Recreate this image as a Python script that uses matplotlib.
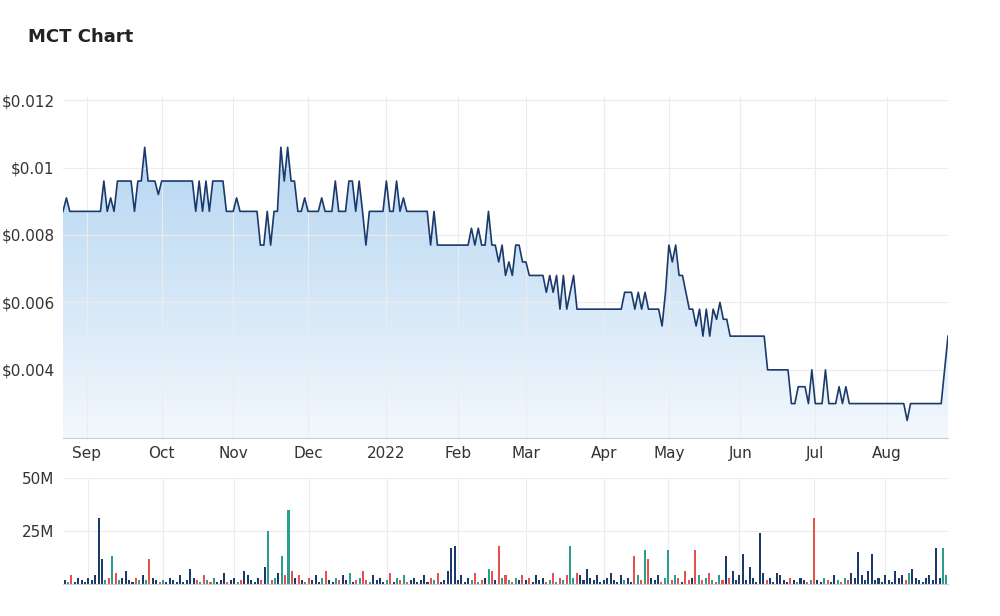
import numpy as np
import matplotlib.pyplot as plt
from matplotlib.ticker import FuncFormatter

# trading-day closes grouped by month (Aug 2021 tail .. Aug 2022)
months = ['', 'Sep', 'Oct', 'Nov', 'Dec', '2022', 'Feb', 'Mar', 'Apr', 'May', 'Jun', 'Jul', 'Aug']
price_by_month = [
    [0.0087, 0.0091, 0.0087, 0.0087, 0.0087, 0.0087, 0.0087],
    [0.0087, 0.0087, 0.0087, 0.0087, 0.0087, 0.0096, 0.0087, 0.0091, 0.0087, 0.0096, 0.0096, 0.0096, 0.0096, 0.0096, 0.0087, 0.0096, 0.0096, 0.0106, 0.0096, 0.0096, 0.0096, 0.0092],
    [0.0096, 0.0096, 0.0096, 0.0096, 0.0096, 0.0096, 0.0096, 0.0096, 0.0096, 0.0096, 0.0087, 0.0096, 0.0087, 0.0096, 0.0087, 0.0096, 0.0096, 0.0096, 0.0096, 0.0087, 0.0087],
    [0.0087, 0.0091, 0.0087, 0.0087, 0.0087, 0.0087, 0.0087, 0.0087, 0.0077, 0.0077, 0.0087, 0.0077, 0.0087, 0.0087, 0.0106, 0.0096, 0.0106, 0.0096, 0.0096, 0.0087, 0.0087, 0.0091],
    [0.0087, 0.0087, 0.0087, 0.0087, 0.0091, 0.0087, 0.0087, 0.0087, 0.0096, 0.0087, 0.0087, 0.0087, 0.0096, 0.0096, 0.0087, 0.0096, 0.0087, 0.0077, 0.0087, 0.0087, 0.0087, 0.0087, 0.0087],
    [0.0096, 0.0087, 0.0087, 0.0096, 0.0087, 0.0091, 0.0087, 0.0087, 0.0087, 0.0087, 0.0087, 0.0087, 0.0087, 0.0077, 0.0087, 0.0077, 0.0077, 0.0077, 0.0077, 0.0077, 0.0077],
    [0.0077, 0.0077, 0.0077, 0.0077, 0.0082, 0.0077, 0.0082, 0.0077, 0.0077, 0.0087, 0.0077, 0.0077, 0.0072, 0.0077, 0.0068, 0.0072, 0.0068, 0.0077, 0.0077, 0.0072],
    [0.0072, 0.0068, 0.0068, 0.0068, 0.0068, 0.0068, 0.0063, 0.0068, 0.0063, 0.0068, 0.0058, 0.0068, 0.0058, 0.0063, 0.0068, 0.0058, 0.0058, 0.0058, 0.0058, 0.0058, 0.0058, 0.0058, 0.0058],
    [0.0058, 0.0058, 0.0058, 0.0058, 0.0058, 0.0058, 0.0063, 0.0063, 0.0063, 0.0058, 0.0063, 0.0058, 0.0063, 0.0058, 0.0058, 0.0058, 0.0058, 0.0053, 0.0063],
    [0.0077, 0.0072, 0.0077, 0.0068, 0.0068, 0.0063, 0.0058, 0.0058, 0.0053, 0.0058, 0.0050, 0.0058, 0.0050, 0.0058, 0.0055, 0.0060, 0.0055, 0.0055, 0.0050, 0.0050, 0.0050],
    [0.0050, 0.0050, 0.0050, 0.0050, 0.0050, 0.0050, 0.0050, 0.0050, 0.0040, 0.0040, 0.0040, 0.0040, 0.0040, 0.0040, 0.0040, 0.0030, 0.0030, 0.0035, 0.0035, 0.0035, 0.0030, 0.0040],
    [0.0030, 0.0030, 0.0030, 0.0040, 0.0030, 0.0030, 0.0030, 0.0035, 0.0030, 0.0035, 0.0030, 0.0030, 0.0030, 0.0030, 0.0030, 0.0030, 0.0030, 0.0030, 0.0030, 0.0030, 0.0030],
    [0.0030, 0.0030, 0.0030, 0.0030, 0.0030, 0.0030, 0.0025, 0.0030, 0.0030, 0.0030, 0.0030, 0.0030, 0.0030, 0.0030, 0.0030, 0.0030, 0.0030, 0.0040, 0.0050],
]
# volume in millions, same grouping
volume_by_month = [
    [2, 1, 4, 1, 3, 2, 1],
    [3, 2, 4, 31, 12, 2, 3, 13, 5, 2, 3, 6, 2, 1, 3, 2, 4, 2, 12, 3, 2, 1],
    [2, 1, 3, 2, 1, 4, 1, 2, 7, 3, 2, 1, 4, 2, 1, 3, 1, 2, 5, 1, 2],
    [3, 1, 2, 6, 4, 2, 1, 3, 2, 8, 25, 2, 3, 5, 13, 4, 35, 6, 3, 4, 2, 1],
    [3, 2, 4, 1, 3, 6, 2, 1, 3, 2, 4, 2, 5, 1, 2, 3, 6, 2, 1, 4, 2, 3, 1],
    [2, 5, 1, 3, 2, 4, 1, 2, 3, 1, 2, 4, 1, 3, 2, 5, 1, 2, 6, 17, 18],
    [2, 4, 1, 3, 2, 5, 1, 2, 3, 7, 6, 2, 18, 3, 4, 2, 1, 3, 2, 4],
    [2, 3, 1, 4, 2, 3, 1, 2, 5, 1, 3, 2, 4, 18, 3, 5, 4, 2, 7, 3, 2, 4, 1],
    [2, 3, 5, 2, 1, 4, 2, 3, 1, 13, 4, 2, 16, 12, 3, 2, 4, 1, 3],
    [16, 2, 4, 3, 1, 6, 2, 3, 16, 4, 2, 3, 5, 2, 1, 4, 2, 13, 3, 6, 2],
    [4, 14, 2, 8, 3, 1, 24, 5, 2, 3, 1, 5, 4, 2, 1, 3, 2, 1, 3, 2, 1, 2],
    [31, 2, 1, 3, 2, 1, 4, 2, 1, 3, 2, 5, 3, 15, 4, 2, 6, 14, 2, 3, 1],
    [4, 2, 1, 6, 3, 4, 2, 5, 7, 3, 2, 1, 3, 4, 2, 17, 3, 17, 4],
]

price = np.concatenate(price_by_month)
volume = np.concatenate(volume_by_month)
x = np.arange(len(price))
month_starts = np.cumsum([0] + [len(m) for m in price_by_month[:-1]])

navy = '#1b3a6b'
diff = np.diff(price, prepend=price[0])
vol_colors = np.where(diff > 0, '#2a9d8f', np.where(diff < 0, '#e8504b', navy))

fig = plt.figure(figsize=(10, 6.16), dpi=100)
fig.text(0.028, 0.932, 'MCT Chart', fontsize=13, fontweight='bold', color='#222222')

ax = fig.add_axes([0.063, 0.289, 0.885, 0.554])
ax.plot(x, price, color=navy, lw=1.2)
ylo = 0.00198
# gradient fill under the line
grad = np.linspace(0, 1, 256).reshape(-1, 1)
im = ax.imshow(grad, extent=[x[0], x[-1], ylo, price.max()], origin='lower', aspect='auto',
               cmap=plt.matplotlib.colors.LinearSegmentedColormap.from_list('g', ['#f3f8fd', '#b6d6f2']), zorder=0)
poly = ax.fill_between(x, price, ylo, color='none')
im.set_clip_path(poly.get_paths()[0], transform=ax.transData)
ax.set_xlim(x[0], x[-1])
ax.set_ylim(ylo, 0.0121)
ax.set_yticks([0.004, 0.006, 0.008, 0.010, 0.012])
ax.yaxis.set_major_formatter(FuncFormatter(lambda v, p: '$' + ('%.3f' % v).rstrip('0')))
ax.set_xticks(month_starts[1:])
ax.set_xticklabels(months[1:])

vax = fig.add_axes([0.063, 0.052, 0.885, 0.172])
vax.bar(x, volume, width=0.6, color=vol_colors)
vax.set_xlim(x[0] - 0.5, x[-1] + 0.5)
vax.set_ylim(0, 50)
vax.set_yticks([25, 50])
vax.set_yticklabels(['25M', '50M'])
vax.set_xticks(month_starts[1:])
vax.set_xticklabels([])

for a in (ax, vax):
    a.grid(True, color='#ececec', lw=0.8)
    a.set_axisbelow(True)
    for s in a.spines.values():
        s.set_visible(False)
    a.spines['bottom'].set_visible(True)
    a.spines['bottom'].set_color('#cccccc')
    a.tick_params(length=0, labelsize=11, colors='#333333', pad=6)

fig.savefig('out.png')
